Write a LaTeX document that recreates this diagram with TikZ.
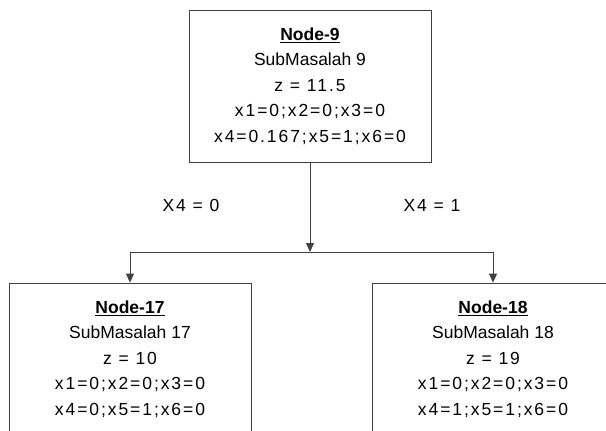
\documentclass[tikz,border=0pt]{standalone}
\usepackage{fontspec}
\setmainfont{Liberation Sans}
\usepackage{tikz}
\usetikzlibrary{arrows.meta}
\newcommand{\wtxt}[1]{{\addfontfeature{LetterSpace=11}#1}}
\tikzset{box/.style={draw=black!75,line width=0.8pt,minimum width=242pt,minimum height=152pt,align=center,inner sep=0pt}}
\tikzset{l/.style={font=\fontsize{17.5}{25.5}\selectfont}}
\tikzset{conn/.style={draw=black!75,line width=0.8pt,-{Triangle[length=9pt,width=8pt]}}}

\begin{document}
\begin{tikzpicture}[x=1pt,y=-1pt]
        \useasboundingbox (0,0) rectangle (606,431);
        \clip (0,0) rectangle (606,431);
        \begin{scope}[l]
          \node[box] (N9) at (310,86) {\underline{\textbf{Node-9}}\\SubMasalah 9\\\wtxt{z = 11.5}\\\wtxt{x1=0;x2=0;x3=0}\\\wtxt{x4=0.167;x5=1;x6=0}};
          \coordinate (S) at (310,252);
          \node[box] (N17) at (130,359) {\underline{\textbf{Node-17}}\\SubMasalah 17\\\wtxt{z = 10}\\\wtxt{x1=0;x2=0;x3=0}\\\wtxt{x4=0;x5=1;x6=0}};
          \node[box] (N18) at (493,359) {\underline{\textbf{Node-18}}\\SubMasalah 18\\\wtxt{z = 19}\\\wtxt{x1=0;x2=0;x3=0}\\\wtxt{x4=1;x5=1;x6=0}};
          \draw[conn] (N9) -- (S);
          \draw[conn] (S) -| (N17);
          \draw[conn] (S) -| (N18);
          \node (b0) at (191,205) {\wtxt{X4 = 0}};
          \node (b1) at (432,205) {\wtxt{X4 = 1}};
        \end{scope}
      \end{tikzpicture}
\end{document}
